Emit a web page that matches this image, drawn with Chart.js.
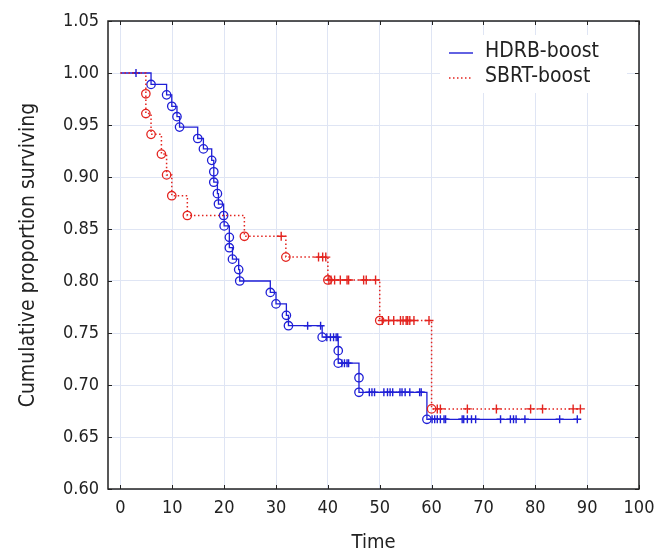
<!DOCTYPE html>
<html>
<head>
<meta charset="utf-8">
<script src="https://cdn.jsdelivr.net/npm/chart.js@4.4.1/dist/chart.umd.min.js"></script>
<style>
  html, body { margin: 0; padding: 0; background: #fff; }
  #wrap { width: 660px; height: 551px; }
</style>
</head>
<body>
<div id="wrap"><canvas id="km"></canvas></div>
<script>
// Kaplan-Meier estimates
const seriesNames = ['HDRB-boost', 'SBRT-boost'];

// HDRB-boost: complete (event) times and survival after each event
const hdrbEventTime = [5.9, 8.9, 9.9, 10.9, 11.4, 14.9, 16.0, 17.6, 18.0, 18.0, 18.7, 18.9, 19.9, 20.0, 21.0, 21.0, 21.6, 22.8, 23.0,
  28.9, 30.0, 32.0, 32.4, 38.9, 42.0, 42.0, 46.0, 46.0, 59.1];
const hdrbEventSurv = [0.989, 0.979, 0.968, 0.958, 0.948, 0.937, 0.927, 0.916, 0.905, 0.895, 0.884, 0.874, 0.863, 0.853, 0.842, 0.832, 0.821, 0.811, 0.800,
  0.789, 0.778, 0.767, 0.757, 0.746, 0.733, 0.721, 0.707, 0.693, 0.667];
// HDRB-boost: censored times
const hdrbCensTime = [3.0, 36.1, 38.6, 39.8, 40.5, 41.1, 41.6, 41.9, 42.7, 43.2, 43.7, 44.0,
  48.0, 48.5, 49.0, 50.8, 51.5, 52.0, 52.5, 53.9, 54.3, 54.9, 55.8, 57.7, 58.0,
  60.1, 60.6, 61.1, 61.7, 62.4, 62.7, 65.9, 66.2, 66.9, 67.7, 68.5, 73.3, 75.2, 75.8, 76.3, 78.0, 84.7, 88.1];

// SBRT-boost
const sbrtEventTime = [4.9, 4.9, 5.9, 7.9, 8.9, 9.9, 12.9, 23.9, 31.9, 40.0, 50.0, 60.0];
const sbrtEventSurv = [0.980, 0.961, 0.941, 0.922, 0.902, 0.882, 0.863, 0.843, 0.823, 0.801, 0.762, 0.677];
const sbrtCensTime = [31.0, 38.2, 39.0, 39.6, 40.2, 40.6, 41.3, 42.4, 43.7, 44.0, 46.9, 47.4, 49.2,
  50.5, 51.7, 52.7, 54.0, 54.5, 55.1, 55.4, 55.8, 56.6, 59.5,
  61.1, 61.7, 66.9, 72.5, 79.1, 81.4, 87.3, 88.7];

const xTicks = [0, 10, 20, 30, 40, 50, 60, 70, 80, 90, 100];
const yTicks = [0.60, 0.65, 0.70, 0.75, 0.80, 0.85, 0.90, 0.95, 1.00, 1.05];

const BLUE = '#1f1fd6';
const RED = '#e3241f';
const FONT = '"DejaVu Sans Condensed", "DejaVu Sans", sans-serif';

// survival level of the step function at time t
function levelAt(times, surv, t) {
  let s = 1;
  times.forEach((et, i) => { if (et <= t) s = surv[i]; });
  return s;
}

function stepPoints(eTimes, eSurv, cTimes) {
  const pts = [{ x: 0, y: 1 }];
  const all = eTimes.map((t, i) => ({ x: t, y: eSurv[i], k: 0 }))
    .concat(cTimes.map(t => ({ x: t, y: levelAt(eTimes, eSurv, t), k: 1 })));
  all.sort((a, b) => a.x - b.x || a.k - b.k);
  all.forEach(p => pts.push({ x: p.x, y: p.y }));
  return pts;
}

function eventPoints(eTimes, eSurv) {
  return eTimes.map((t, i) => ({ x: t, y: eSurv[i] }));
}

function censPoints(eTimes, eSurv, cTimes) {
  return cTimes.map(t => ({ x: t, y: levelAt(eTimes, eSurv, t) }));
}

// frame, inward ticks and legend box
const framePlugin = {
  id: 'frame',
  beforeDatasetsDraw(chart) {
    const { ctx } = chart;
    ctx.save();
    ctx.fillStyle = '#fff';
    ctx.fillRect(440, 35, 187, 58);
    ctx.restore();
  },
  afterDraw(chart) {
    const { ctx, chartArea: a, scales } = chart;
    ctx.save();
    ctx.strokeStyle = '#222';
    ctx.lineWidth = 1.5;
    ctx.strokeRect(a.left, a.top, a.right - a.left, a.bottom - a.top);
    ctx.lineWidth = 1;
    const len = 4;
    ctx.beginPath();
    xTicks.forEach(v => {
      const px = Math.round(scales.x.getPixelForValue(v)) + 0.5;
      ctx.moveTo(px, a.bottom); ctx.lineTo(px, a.bottom - len);
      ctx.moveTo(px, a.top); ctx.lineTo(px, a.top + len);
    });
    yTicks.forEach(v => {
      const py = Math.round(scales.y.getPixelForValue(v)) + 0.5;
      ctx.moveTo(a.left, py); ctx.lineTo(a.left + len, py);
      ctx.moveTo(a.right, py); ctx.lineTo(a.right - len, py);
    });
    ctx.stroke();

    // legend
    ctx.font = '21px ' + FONT;
    ctx.fillStyle = '#222';
    ctx.textBaseline = 'middle';
    const rows = [{ y: 52, c: BLUE, dash: [] }, { y: 77, c: RED, dash: [1.5, 2.5] }];
    rows.forEach((r, i) => {
      ctx.strokeStyle = r.c;
      ctx.lineWidth = 1.4;
      ctx.setLineDash(r.dash);
      ctx.beginPath();
      ctx.moveTo(449, r.y + 1); ctx.lineTo(473, r.y + 1);
      ctx.stroke();
      ctx.setLineDash([]);
      ctx.fillText(seriesNames[i], 485, r.y);
    });
    ctx.restore();
  }
};

const ctx = document.getElementById('km');
new Chart(ctx, {
  type: 'line',
  data: {
    datasets: [
      {
        label: seriesNames[1],
        data: stepPoints(sbrtEventTime, sbrtEventSurv, sbrtCensTime),
        stepped: 'before', borderColor: RED, borderWidth: 1.5, borderDash: [1.5, 2.5],
        pointRadius: 0, fill: false, order: 1,
      },
      {
        label: seriesNames[1] + ' complete',
        data: eventPoints(sbrtEventTime, sbrtEventSurv),
        showLine: false, pointStyle: 'circle', pointRadius: 4.2,
        pointBorderColor: RED, pointBackgroundColor: 'rgba(0,0,0,0)', pointBorderWidth: 1.3, order: 0,
      },
      {
        label: seriesNames[1] + ' censored',
        data: censPoints(sbrtEventTime, sbrtEventSurv, sbrtCensTime),
        showLine: false, pointStyle: 'cross', pointRadius: 4.5,
        pointBorderColor: RED, pointBorderWidth: 1.4, order: 0,
      },
      {
        label: seriesNames[0],
        data: stepPoints(hdrbEventTime, hdrbEventSurv, hdrbCensTime),
        stepped: 'before', borderColor: BLUE, borderWidth: 1.3,
        pointRadius: 0, fill: false, order: 3,
      },
      {
        label: seriesNames[0] + ' complete',
        data: eventPoints(hdrbEventTime, hdrbEventSurv),
        showLine: false, pointStyle: 'circle', pointRadius: 4.2,
        pointBorderColor: BLUE, pointBackgroundColor: 'rgba(0,0,0,0)', pointBorderWidth: 1.3, order: 2,
      },
      {
        label: seriesNames[0] + ' censored',
        data: censPoints(hdrbEventTime, hdrbEventSurv, hdrbCensTime),
        showLine: false, pointStyle: 'cross', pointRadius: 4,
        pointBorderColor: BLUE, pointBorderWidth: 1.4, order: 2,
      },
    ]
  },
  options: {
    responsive: true,
    maintainAspectRatio: false,
    animation: false,
    layout: { padding: { left: 12, right: 21, top: 21, bottom: 0 } },
    plugins: { legend: { display: false }, tooltip: { enabled: false } },
    scales: {
      x: {
        type: 'linear', min: -2.4, max: 100,
        afterBuildTicks: s => { s.ticks = xTicks.map(v => ({ value: v })); },
        afterFit: s => { s.height = 62; s.paddingLeft = 0; s.paddingRight = 0; },
        ticks: { font: { size: 18, family: FONT }, color: '#222', padding: 9, maxRotation: 0, autoSkip: false },
        grid: { color: '#dfe5f4', drawTicks: false },
        border: { display: false },
        title: { display: true, text: 'Time', font: { size: 20, family: FONT }, color: '#222', padding: { top: 0, bottom: -4 } },
      },
      y: {
        type: 'linear', min: 0.6, max: 1.05,
        afterBuildTicks: s => { s.ticks = yTicks.map(v => ({ value: v })); },
        afterFit: s => { s.width = 96; s.paddingTop = 0; s.paddingBottom = 0; },
        ticks: { font: { size: 18, family: FONT }, color: '#222', padding: 9, callback: v => Number(v).toFixed(2), autoSkip: false },
        grid: { color: '#dfe5f4', drawTicks: false },
        border: { display: false },
        title: { display: true, text: 'Cumulative proportion surviving', font: { size: 21, family: FONT }, color: '#222', padding: { top: 4, bottom: 0 } },
      }
    }
  },
  plugins: [framePlugin]
});
</script>
</body>
</html>
